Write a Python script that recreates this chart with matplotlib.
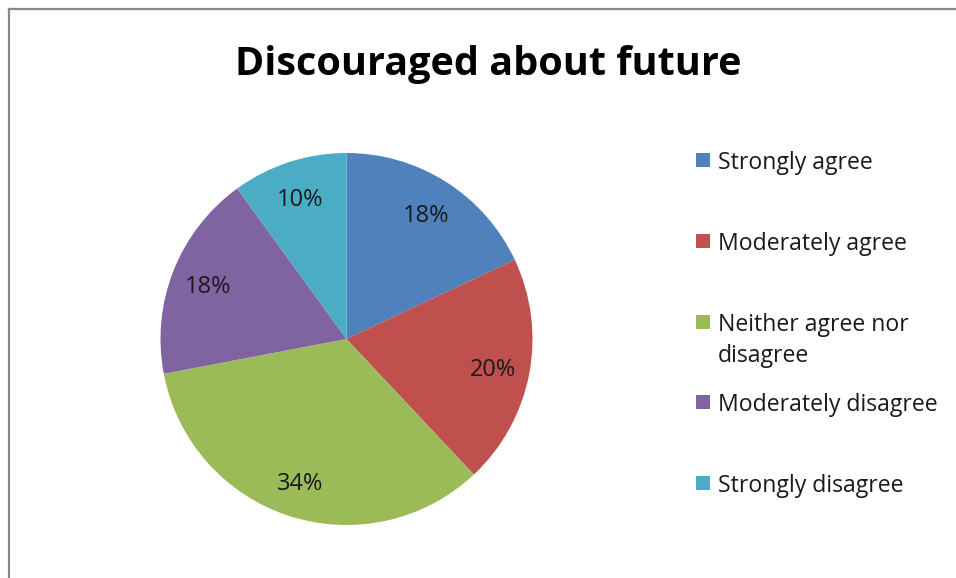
import matplotlib
matplotlib.use('Agg')
from matplotlib import pyplot as plt
from matplotlib.patches import Rectangle
from matplotlib.lines import Line2D

TITLE = 'Discouraged about future'
CATEGORIES = [
    'Strongly agree',
    'Moderately agree',
    'Neither agree nor\ndisagree',
    'Moderately disagree',
    'Strongly disagree'
]
PERCENTS = [18, 20, 34, 18, 10]
COLORS = ['#4F81BD', '#C0504D', '#9BBB59', '#8064A2', '#4BACC6']

W, H = 956, 578
DPI = 100


def px_x(x):
    return x / W


def px_y(y):
    return 1 - y / H


def main():
    plt.rcParams['font.family'] = ['Open Sans', 'DejaVu Sans']
    fig = plt.figure(figsize=(W / DPI, H / DPI), dpi=DPI)

    # outer chart frame: only its top and left edges fall inside the canvas
    frame_color = '#8a8a8a'
    fig.add_artist(Line2D([px_x(8.5), px_x(8.5)], [px_y(8.5), -0.1],
                          color=frame_color, lw=1.6, transform=fig.transFigure))
    fig.add_artist(Line2D([px_x(8.5), 1.1], [px_y(8.5), px_y(8.5)],
                          color=frame_color, lw=1.6, transform=fig.transFigure))

    fig.text(px_x(488), px_y(60), TITLE, ha='center', va='center_baseline',
             fontsize=28.5, fontweight='bold', color='black')

    # pie: centre (346.5, 339) px, radius 186 px
    cx, cy, r = 346.5, 339, 186
    ax = fig.add_axes([px_x(cx - r), px_y(cy + r), 2 * r / W, 2 * r / H])
    wedges, texts, autotexts = ax.pie(
        PERCENTS, colors=COLORS, startangle=90, counterclock=False,
        autopct='%d%%', pctdistance=0.8, radius=1.0,
        wedgeprops=dict(linewidth=0),
        textprops=dict(fontsize=17, color='#1a1a1a', va='center_baseline'))
    ax.set_xlim(-1, 1)
    ax.set_ylim(-1, 1)
    ax.set_aspect('equal')
    ax.axis('off')

    # legend laid out in fixed slots, marker aligned with the first text line
    top, slot, line_gap = 160, 80.8, 31
    for i, (label, color) in enumerate(zip(CATEGORIES, COLORS)):
        y = top + i * slot
        fig.add_artist(Rectangle((px_x(696), px_y(y + 7)), 14 / W, 14 / H,
                                 facecolor=color, edgecolor='none',
                                 transform=fig.transFigure))
        for k, line in enumerate(label.split('\n')):
            fig.text(px_x(718), px_y(y + k * line_gap), line, ha='left',
                     va='center_baseline', fontsize=16.6, color='#1a1a1a')

    fig.savefig('out.png', dpi=DPI)
    plt.close(fig)


if __name__ == '__main__':
    main()
